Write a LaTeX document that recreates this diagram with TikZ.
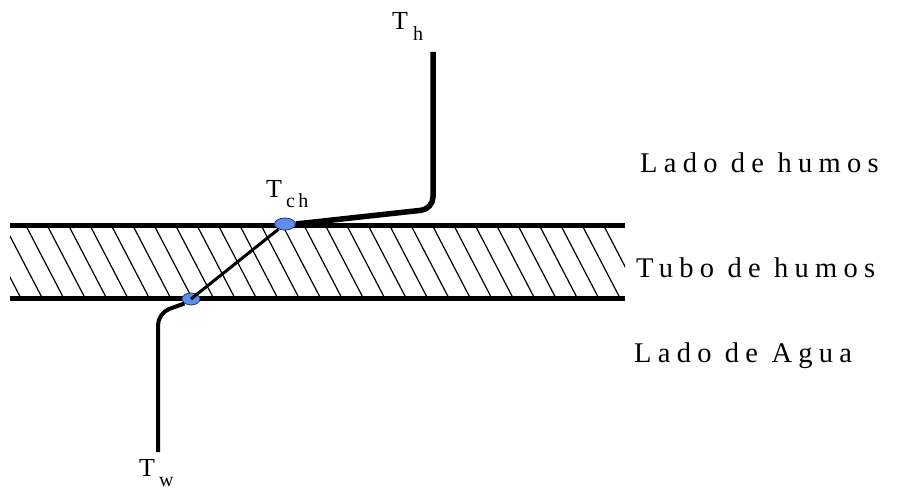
\documentclass[tikz,border=0pt]{standalone}
\usepackage{fontspec}
\setmainfont{Liberation Serif}
\newfontfamily\spacedfont[LetterSpace=22]{Liberation Serif}
\usetikzlibrary{shapes.geometric}
\definecolor{probefill}{RGB}{92,142,236}
\definecolor{probeedge}{RGB}{30,50,120}

\newcommand{\subtxt}[1]{\raisebox{-0.4em}{\fontsize{20}{20}\selectfont #1}}

\begin{document}
\begin{tikzpicture}[x=1pt, y=-1pt,
  wall/.style={line width=5pt},
  hatch/.style={line width=1.2pt},
  profile/.style={line width=4pt, rounded corners=12pt},
  probe/.style={ellipse, draw=probeedge, fill=probefill, line width=0.8pt, inner sep=0pt, minimum width=21pt, minimum height=12pt},
  templbl/.style={font=\fontsize{26}{26}\selectfont, inner sep=0pt, anchor=base west},
  sidelbl/.style={font=\spacedfont\fontsize{28.5}{28.5}\selectfont, anchor=base west, inner sep=0pt}
]
\useasboundingbox (0,0) rectangle (901,489);

% hatched tube wall
\begin{scope}
  \clip (10,227) rectangle (625,296);
  \foreach \x in {-60,-38.6,...,640} \draw[hatch] (\x,225) -- ++(38,73);
\end{scope}
\draw[wall] (10,225) -- (625,225);
\draw[wall] (10,298) -- (625,298);

% probes
\node[probe] (tch) at (285,224) {};
\node[probe, minimum width=18pt] (tcold) at (191,299) {};
\coordinate (thtop) at (433,52);
\coordinate (twbot) at (158,452);

% temperature profile
\draw[profile, line width=5.5pt] (thtop) -- (433,209) -- (tch.east);
\draw[line width=3pt] (tch) -- (tcold.center);
\draw[profile] (tcold.south west) -- (158,313) -- (twbot);

% labels
\node[templbl] (thlbl) at (392,30) {T\hspace{5pt}\subtxt{h}};
\node[templbl] (tchlbl) at (266,197) {T\hspace{4pt}\subtxt{c\,h}};
\node[templbl] (twlbl) at (139,476) {T\hspace{4pt}\subtxt{w}};

\node[sidelbl] (humos) at (640,172) {Lado de humos};
\node[sidelbl] (tubo) at (636,277) {Tubo de humos};
\node[sidelbl] (agua) at (634,362) {Lado de Agua};

\end{tikzpicture}
\end{document}
